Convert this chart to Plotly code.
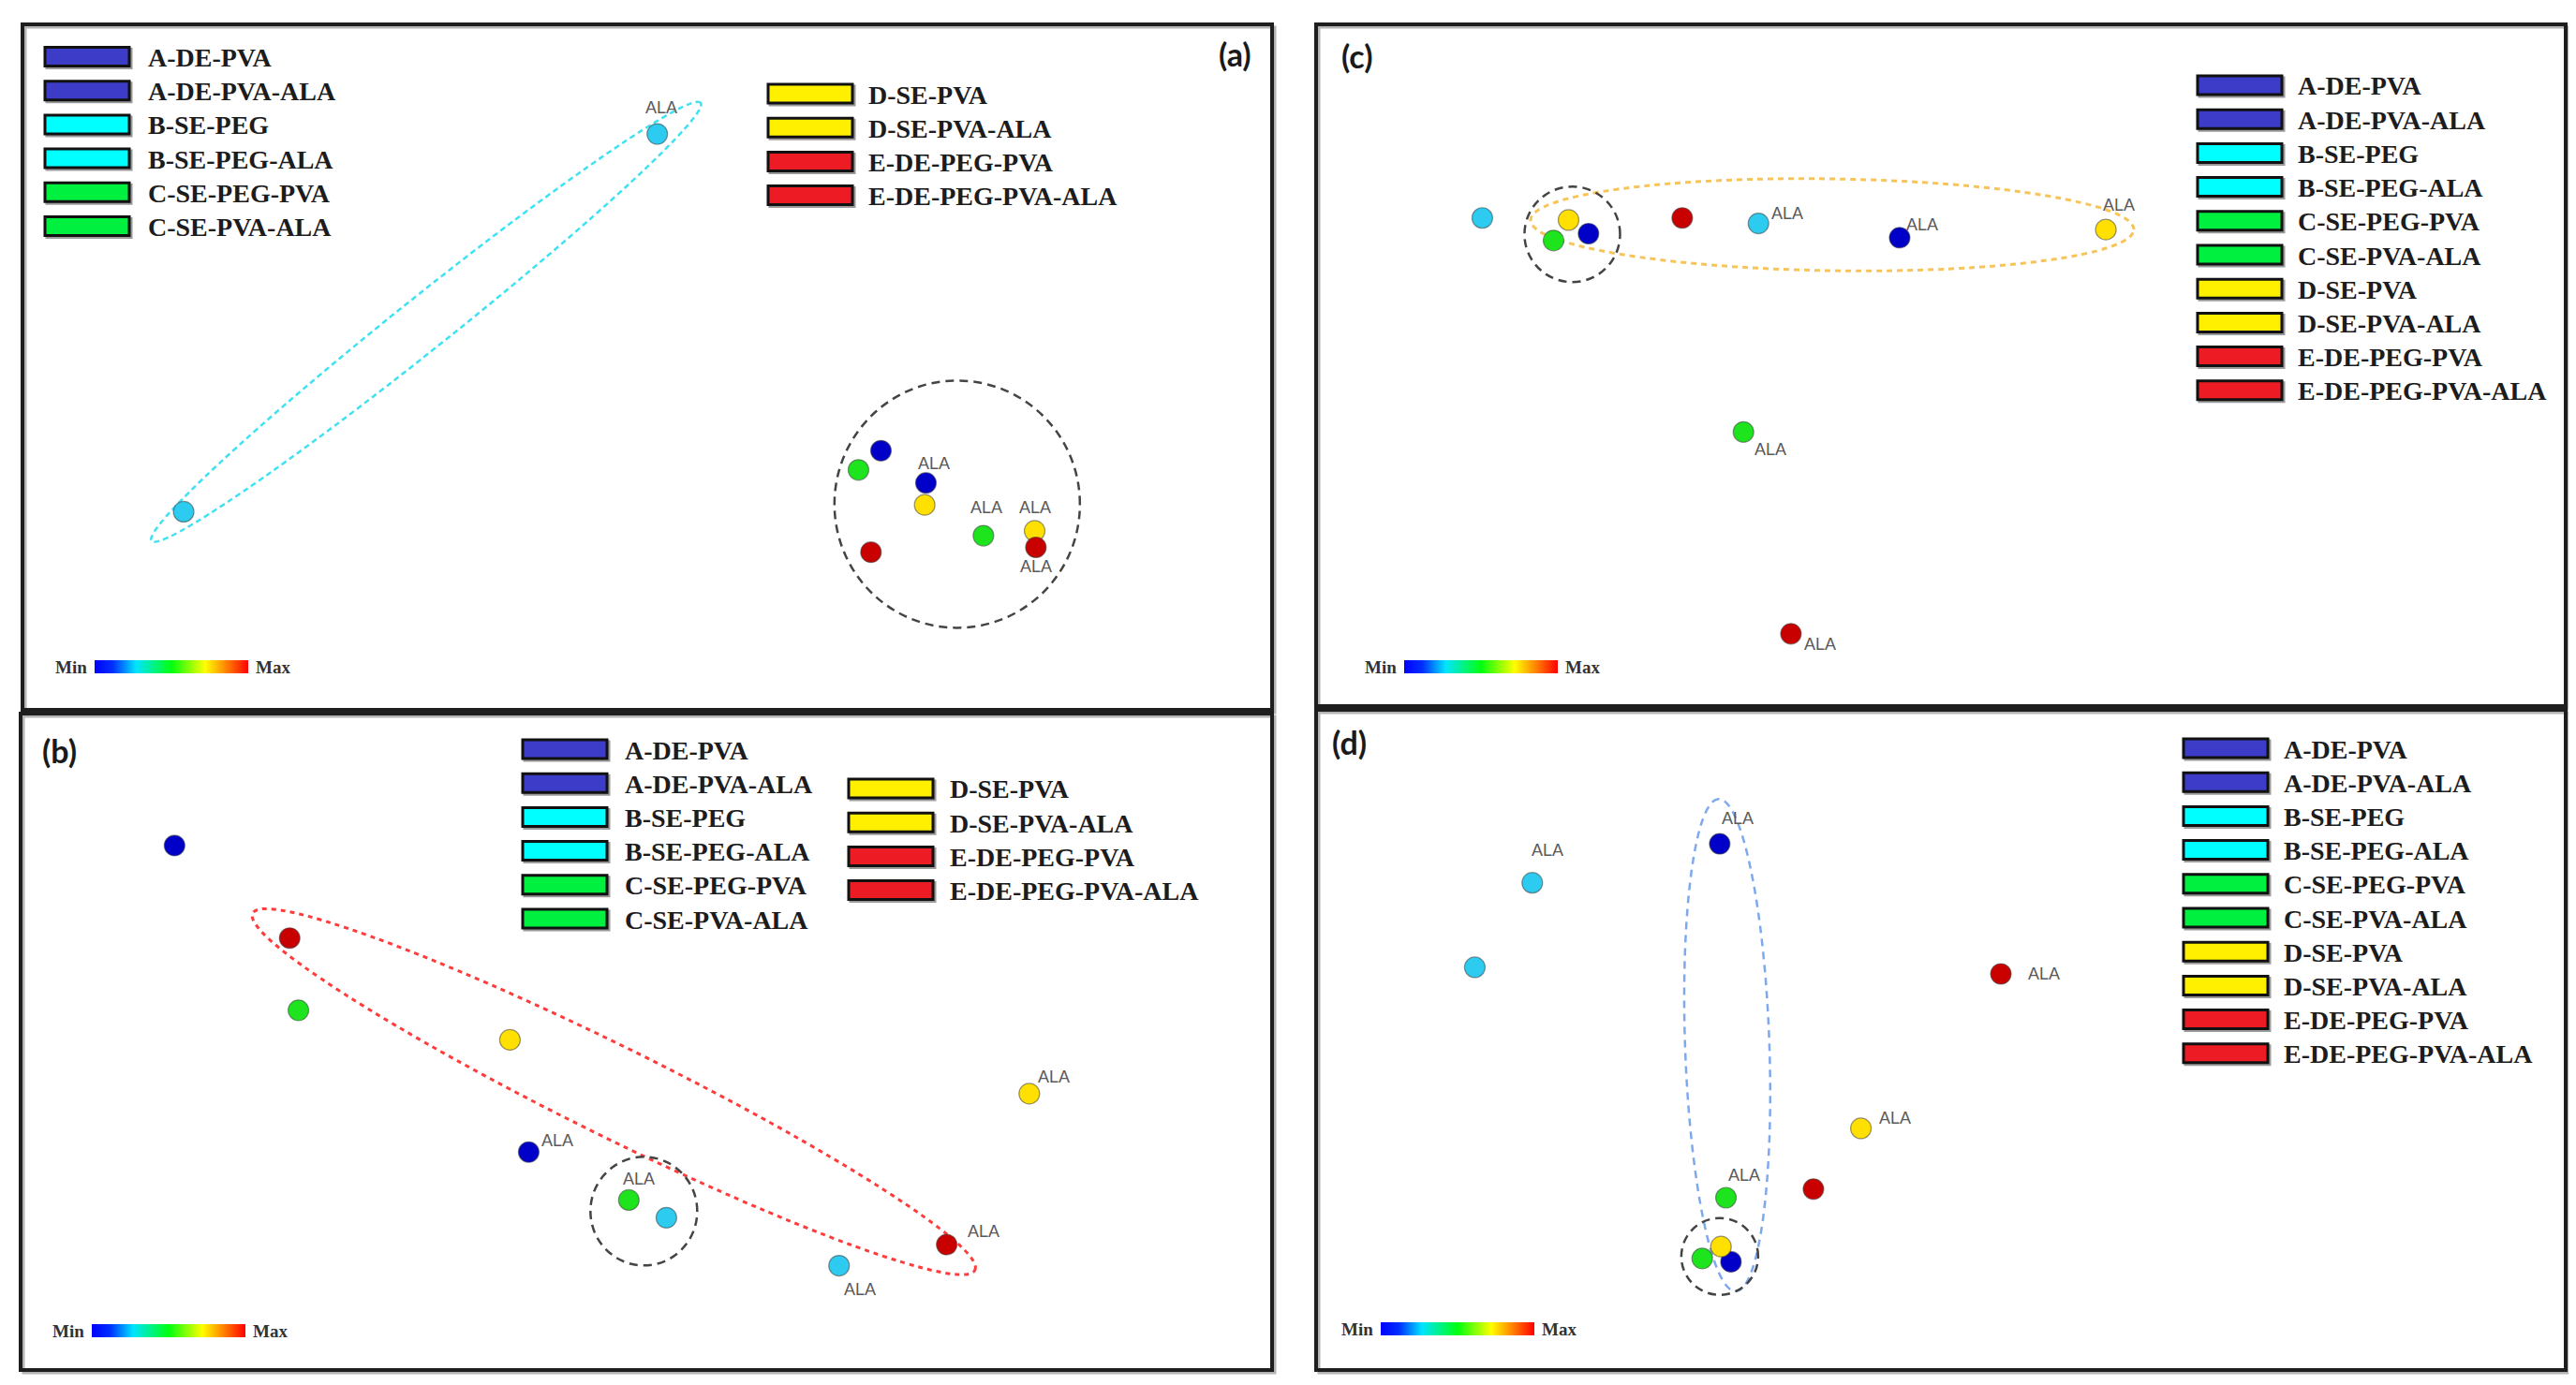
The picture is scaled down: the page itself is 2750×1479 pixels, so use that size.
import math
import plotly.graph_objects as go

W, H = 2750, 1479

# ---------------- data ----------------
categories = ["A-DE-PVA", "A-DE-PVA-ALA", "B-SE-PEG", "B-SE-PEG-ALA", "C-SE-PEG-PVA",
              "C-SE-PVA-ALA", "D-SE-PVA", "D-SE-PVA-ALA", "E-DE-PEG-PVA", "E-DE-PEG-PVA-ALA"]
point_colors = ["#0000c8", "#0000c8", "#2ccbef", "#2ccbef", "#1ee41e",
                "#1ee41e", "#ffe000", "#ffe000", "#c80000", "#c80000"]
legend_colors = ["#3c3cc8", "#3c3cc8", "#00ffff", "#00ffff", "#00f040",
                 "#00f040", "#fff000", "#fff000", "#ed1c24", "#ed1c24"]
panel_names = ["(a)", "(b)", "(c)", "(d)"]

# score coordinates (0-100 within each panel)
a_x = [68.7, 72.3, 12.9, 50.8, 66.9, 76.9, 72.2, 81.0, 67.9, 81.1]
a_y = [37.8, 33.1, 28.9, 84.0, 35.0, 25.4, 29.9, 26.1, 23.0, 23.7]
b_x = [12.3, 40.6, 51.6, 65.4, 22.2, 48.6, 39.1, 80.6, 21.5, 74.0]
b_y = [79.9, 33.2, 23.2, 15.9, 54.8, 25.9, 50.3, 42.1, 65.8, 19.1]
c_x = [21.8, 46.7, 13.3, 35.4, 19.0, 34.2, 20.2, 63.2, 29.3, 38.0]
c_y = [69.3, 68.7, 71.6, 70.8, 68.3, 40.2, 71.3, 69.9, 71.6, 10.6]
d_x = [33.2, 32.3, 12.7, 17.3, 30.9, 32.8, 32.4, 43.6, 39.8, 54.8]
d_y = [16.4, 79.7, 61.0, 73.8, 16.9, 26.1, 18.7, 36.6, 27.4, 60.0]

# cluster ellipses: centre in score units
a_groups = [(32.3, 56.6), (74.8, 30.0)]
b_groups = [(47.4, 42.4), (49.8, 24.2)]
c_groups = [(41.3, 70.6), (20.5, 69.2)]
d_groups = [(32.9, 49.2), (32.3, 17.2)]

# ---------------- styling / layout ----------------
panels_px = [(16, 18, 1350, 750), (14, 754, 1350, 1455),
             (1397, 18, 2731, 746), (1397, 750, 2731, 1455)]
panel_data = [(a_x, a_y, a_groups), (b_x, b_y, b_groups),
              (c_x, c_y, c_groups), (d_x, d_y, d_groups)]
# (semi-major px, semi-minor px, angle deg, colour, dash, width)
ellipse_style = [
    [(375, 28, 38.6, "#3fe2f2", "6px,4px", 2.5), (131, 132, 0, "#444444", "9px,6px", 2.5)],
    [(430, 48, -26.3, "#ff3b3b", "5px,5px", 3), (57, 58, 0, "#444444", "9px,6px", 2.5)],
    [(322, 49, -0.9, "#f7c45a", "6px,5px", 3), (51, 51, 0, "#444444", "9px,6px", 2.5)],
    [(263, 45, 92, "#7fa9ee", "8px,6px", 2.5), (41, 41, 0, "#444444", "9px,6px", 2.5)],
]
# ALA label offsets (px) for the ALA samples A,B,C,D,E
label_offsets = [
    [(9, 21), (4, 28), (3, 30), (0, 25), (0, -20)],
    [(31, 12), (22, -25), (11, 22), (26, 18), (39, 14)],
    [(24, 14), (31, 11), (29, -19), (14, 26), (31, -11)],
    [(19, 27), (16, 35), (19, 24), (36, 11), (46, 0)],
]
panel_label_pos = [(1310, 50), (55, 793), (1440, 52), (1432, 784)]
# legend blocks: (first idx, last idx+1, swatch x0, first row y, text x)
legend_blocks = [(0, 6, 40, 52.5, 148), (6, 10, 812, 92, 917),
                 (0, 6, 550, 792, 657), (6, 10, 898, 834, 1004),
                 (0, 10, 2338, 83, 2443), (0, 10, 2323, 791, 2428)]
ROW = 36.2
SW_W, SW_H = 90, 20
# gradient bar (left x, centre y)
bars = [(93, 704), (90, 1413), (1491, 704), (1466, 1411)]
jet = [[0, "#0000ff"], [0.12, "#0030ff"], [0.27, "#00e5ff"], [0.5, "#00ff10"],
       [0.72, "#ffff00"], [0.86, "#ff8000"], [1, "#ff0000"]]


def px(x):
    return x / W


def py(y):
    return 1 - y / H


def ellipse_path(cx, cy, a_px, b_px, ang, pw, ph):
    t = math.radians(ang)
    ux, uy = a_px * math.cos(t) / pw * 100, a_px * math.sin(t) / ph * 100
    vx, vy = -b_px * math.sin(t) / pw * 100, b_px * math.cos(t) / ph * 100
    k = 0.5523

    def P(ax, ay):
        return f"{cx + ax:.3f},{cy + ay:.3f}"

    segs = [((ux, uy), (vx, vy)), ((vx, vy), (-ux, -uy)),
            ((-ux, -uy), (-vx, -vy)), ((-vx, -vy), (ux, uy))]
    path = "M" + P(ux, uy)
    for s, e in segs:
        path += (" C" + P(s[0] + k * e[0], s[1] + k * e[1]) + " " +
                 P(e[0] + k * s[0], e[1] + k * s[1]) + " " + P(e[0], e[1]))
    return path + " Z"


fig = go.Figure()
shapes = []
annotations = []
layout_axes = {}

for i, ((x0, y0, x1, y1), (xs, ys, groups)) in enumerate(zip(panels_px, panel_data)):
    n = "" if i == 0 else str(i + 1)
    xa, ya = "x" + n, "y" + n
    layout_axes["xaxis" + n] = dict(domain=[px(x0), px(x1)], range=[0, 100], visible=False,
                                    fixedrange=True, anchor=ya)
    layout_axes["yaxis" + n] = dict(domain=[py(y1), py(y0)], range=[0, 100], visible=False,
                                    fixedrange=True, anchor=xa)
    pw, ph = x1 - x0, y1 - y0

    # frame (shadow + border)
    shapes.append(dict(type="rect", xref="paper", yref="paper",
                       x0=px(x0 + 3), y0=py(y1 + 3), x1=px(x1 + 3), y1=py(y0 + 3),
                       line=dict(color="#b4b4b4", width=3), layer="below"))
    shapes.append(dict(type="rect", xref="paper", yref="paper",
                       x0=px(x0), y0=py(y1), x1=px(x1), y1=py(y0),
                       line=dict(color="#1e1e1e", width=4), layer="above"))

    # ellipses
    for (cx, cy), (a_px, b_px, ang, col, dash, lw) in zip(groups, ellipse_style[i]):
        shapes.append(dict(type="path", xref=xa, yref=ya,
                           path=ellipse_path(cx, cy, a_px, b_px, ang, pw, ph),
                           line=dict(color=col, width=lw, dash=dash), layer="below"))

    # points
    fig.add_trace(go.Scatter(
        x=xs, y=ys, xaxis=xa, yaxis=ya, mode="markers",
        marker=dict(size=22, color=point_colors,
                    line=dict(color="rgba(70,70,70,0.55)", width=1.2)),
        text=categories, hoverinfo="text", showlegend=False))

    # ALA labels
    ala_idx = [j for j, c in enumerate(categories) if c.endswith("ALA")]
    for j, (dx, dy) in zip(ala_idx, label_offsets[i]):
        annotations.append(dict(x=xs[j], y=ys[j], xref=xa, yref=ya, text="ALA",
                                showarrow=False, xshift=dx, yshift=dy,
                                xanchor="center", yanchor="middle",
                                font=dict(family="Liberation Sans, Arial", size=18,
                                          color="#5a5a5a")))

    # panel label
    lx, ly = panel_label_pos[i]
    annotations.append(dict(x=px(lx), y=py(ly), xref="paper", yref="paper",
                            text=panel_names[i], showarrow=False,
                            xanchor="center", yanchor="middle",
                            font=dict(family="Lato, Open Sans", size=34,
                                      color="#1a1a1a", weight="bold")))

    # gradient bar
    bx, by = bars[i]
    fig.add_trace(go.Scatter(
        x=[None], y=[None], xaxis=xa, yaxis=ya, mode="markers", showlegend=False,
        hoverinfo="skip",
        marker=dict(color=[0.5], cmin=0, cmax=1, colorscale=jet, showscale=True,
                    colorbar=dict(orientation="h", x=px(bx), xanchor="left",
                                  y=py(by), yanchor="middle", len=164, lenmode="pixels",
                                  thickness=14, thicknessmode="pixels", outlinewidth=0,
                                  showticklabels=False, ticks="", xpad=0, ypad=0))))
    annotations.append(dict(x=px(bx - 6), y=py(by), xref="paper", yref="paper", text="Min",
                            showarrow=False, xanchor="right", yanchor="middle",
                            font=dict(family="Liberation Serif", size=19, color="#333333",
                                      weight="bold")))
    annotations.append(dict(x=px(bx + 170), y=py(by), xref="paper", yref="paper", text="Max",
                            showarrow=False, xanchor="left", yanchor="middle",
                            font=dict(family="Liberation Serif", size=19, color="#333333",
                                      weight="bold")))

# legends
for (i0, i1, sx, ry, tx) in legend_blocks:
    for r, j in enumerate(range(i0, i1)):
        yc = ry + r * ROW
        shapes.append(dict(type="rect", xref="paper", yref="paper",
                           x0=px(sx + 2), x1=px(sx + SW_W + 2),
                           y0=py(yc + SW_H / 2 + 2), y1=py(yc - SW_H / 2 + 2),
                           line=dict(color="#9a9a9a", width=3), fillcolor="#9a9a9a"))
        shapes.append(dict(type="rect", xref="paper", yref="paper",
                           x0=px(sx), x1=px(sx + SW_W),
                           y0=py(yc + SW_H / 2), y1=py(yc - SW_H / 2),
                           line=dict(color="#111111", width=3), fillcolor=legend_colors[j]))
        annotations.append(dict(x=px(tx), y=py(yc + 1), xref="paper", yref="paper",
                                text=categories[j], showarrow=False,
                                xanchor="left", yanchor="middle",
                                font=dict(family="Liberation Serif", size=28,
                                          color="#1c1c1c", weight="bold")))

fig.update_layout(
    width=W, height=H, autosize=False,
    margin=dict(l=0, r=0, t=0, b=0),
    paper_bgcolor="white", plot_bgcolor="rgba(0,0,0,0)",
    shapes=shapes, annotations=annotations, showlegend=False,
    **layout_axes)

fig.write_html("out.html")
